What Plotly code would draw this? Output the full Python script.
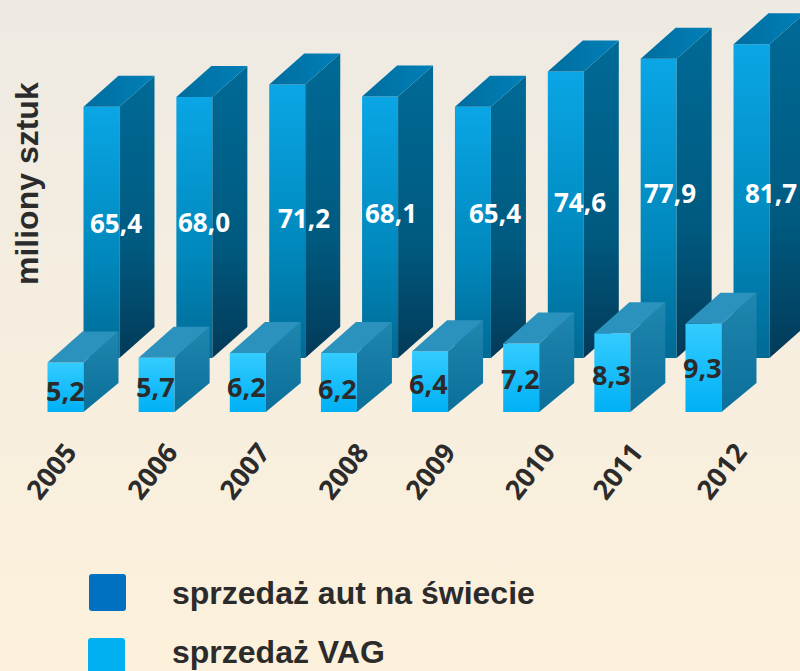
import plotly.graph_objects as go

years = ["2005", "2006", "2007", "2008", "2009", "2010", "2011", "2012"]
world_sales = [65.4, 68.0, 71.2, 68.1, 65.4, 74.6, 77.9, 81.7]
vag_sales = [5.2, 5.7, 6.2, 6.2, 6.4, 7.2, 8.3, 9.3]
legend_names = ["sprzedaż aut na świecie", "sprzedaż VAG"]
axis_title = "miliony sztuk"

W, H = 800, 671
DARK = "#2b2b2b"
NUM_FONT = "Open Sans"
TXT_FONT = "Liberation Sans"

# axis calibration (pixels)
W_STEP, W_X0, W_BASE, W_SCALE = 92.86, 101.5, 358, 3.84
V_STEP, V_X0, V_BASE, V_SCALE = 91.14, 65.5, 412, 9.5
BAR_W = 36
DEPTH_X, DEPTH_Y = 35, 31

x_range_w = [-W_X0 / W_STEP, (W - W_X0) / W_STEP]
x_range_v = [-V_X0 / V_STEP, (W - V_X0) / V_STEP]
y_range_w = [(W_BASE - H) / W_SCALE, W_BASE / W_SCALE]
y_range_v = [0, V_BASE / V_SCALE]
y_domain_v = [(H - V_BASE) / H, 1]

fig = go.Figure()


def face(xs, ys, stops, xa, ya, typ="vertical"):
    fig.add_trace(go.Scatter(
        x=xs + xs[:1], y=ys + ys[:1], xaxis=xa, yaxis=ya, mode="lines",
        line=dict(width=0), fill="toself",
        fillgradient=dict(type=typ, colorscale=stops),
        hoverinfo="skip", showlegend=False))


# background
face([x_range_w[0], x_range_w[1], x_range_w[1], x_range_w[0]],
     [y_range_w[0], y_range_w[0], y_range_w[1], y_range_w[1]],
     [[0, "#fdf1db"], [1, "#eeeae3"]], "x", "y")


def bar3d(i, v, step, scale, xa, ya, front, side, top, lift):
    hw = BAR_W / 2 / step
    dx = DEPTH_X / step
    dy = DEPTH_Y / scale
    l, r = i - hw, i + hw
    face([l, r, r, l], [0, 0, v, v], front, xa, ya)
    face([r, r + dx, r + dx, r], [0, lift / scale, v + dy, v], side, xa, ya)
    face([l, r, r + dx, l + dx], [v, v, v + dy, v + dy], top, xa, ya, "horizontal")


for i, v in enumerate(world_sales):
    bar3d(i, v, W_STEP, W_SCALE, "x", "y",
          [[0, "#006a95"], [0.4, "#0088bc"], [1, "#0aa6e6"]],
          [[0, "#033a58"], [0.4, "#005a80"], [1, "#006a96"]],
          [[0, "#006d9e"], [1, "#0080b8"]], DEPTH_Y)
for i, v in enumerate(vag_sales):
    bar3d(i, v, V_STEP, V_SCALE, "x2", "y2",
          [[0, "#00b0f5"], [1, "#33ccff"]],
          [[0, "#0a6f9a"], [1, "#1f86ae"]],
          [[0, "#2a92bd"], [1, "#2a92bd"]], 29)

# value labels sit around each bar's middle with hand-read nudges
w_nudge_x = [14.5, 9.6, 16.8, 10.9, 22.1, 14.2, 11.3, 19.5]
w_nudge_y = [9.4, 5.4, 3.3, 14.2, 19.4, 12.8, 15.4, 8.1]
v_nudge_x = [0, -1, -1, -1, -2, -1, -1, -1]
v_nudge_y = [-3.4, -1.8, -4, -6, -2, -1, -2, 0]


def fmt(v):
    return f"{v:.1f}".replace(".", ",")


annotations = []
for i, v in enumerate(world_sales):
    annotations.append(dict(x=i, y=v / 2, xref="x", yref="y", text=f"<b>{fmt(v)}</b>", showarrow=False,
                            xshift=w_nudge_x[i], yshift=w_nudge_y[i],
                            font=dict(family=NUM_FONT, size=26, color="white")))
for i, v in enumerate(vag_sales):
    annotations.append(dict(x=i, y=v / 2, xref="x2", yref="y2", text=f"<b>{fmt(v)}</b>", showarrow=False,
                            xshift=v_nudge_x[i], yshift=v_nudge_y[i],
                            font=dict(family=NUM_FONT, size=27, color=DARK)))

annotations.append(dict(x=27 / W, y=1 - 184 / H, xref="paper", yref="paper", text=f"<b>{axis_title}</b>",
                        textangle=-90, showarrow=False, xanchor="center", yanchor="middle",
                        font=dict(family=TXT_FONT, size=32, color=DARK)))

shapes = []
legend_colors = ["#0070c0", "#00b0f0"]
legend_boxes = [(89, 574), (88, 638)]
legend_text_y = [593, 652]
for name, col, (bx, by), ty in zip(legend_names, legend_colors, legend_boxes, legend_text_y):
    r, s = 3, 37
    x0, x1, y0, y1 = bx / W, (bx + s) / W, 1 - by / H, 1 - (by + s) / H
    rx, ry = r / W, r / H
    path = (f"M {x0+rx} {y0} L {x1-rx} {y0} Q {x1} {y0} {x1} {y0-ry} L {x1} {y1+ry} Q {x1} {y1} {x1-rx} {y1} "
            f"L {x0+rx} {y1} Q {x0} {y1} {x0} {y1+ry} L {x0} {y0-ry} Q {x0} {y0} {x0+rx} {y0} Z")
    shapes.append(dict(type="path", xref="paper", yref="paper", path=path, fillcolor=col, line=dict(width=0)))
    annotations.append(dict(x=170 / W, y=1 - ty / H, xref="paper", yref="paper", xanchor="left",
                            yanchor="middle", text=f"<b>{name}</b>", showarrow=False,
                            font=dict(family=TXT_FONT, size=32, color=DARK)))

tick_nudge = [0.02, 0.13, 0.14, 0.225, 0.18, 0.27, 0.233, 0.374]
tick_vals = [i + tick_nudge[i] for i in range(len(years))]

fig.update_layout(
    width=W, height=H, autosize=False,
    margin=dict(l=0, r=0, t=0, b=0),
    paper_bgcolor="#fdf1db", plot_bgcolor="rgba(0,0,0,0)",
    showlegend=False, shapes=shapes, annotations=annotations,
    xaxis=dict(range=x_range_w, visible=False, fixedrange=True, automargin=False),
    yaxis=dict(range=y_range_w, visible=False, fixedrange=True, automargin=False),
    xaxis2=dict(range=x_range_v, anchor="y2", side="bottom", showgrid=False, zeroline=False,
                showline=False, ticks="", tickmode="array", tickvals=tick_vals, ticktext=[f"<b>{y}</b>" for y in years],
                tickangle=-52, ticklabelstandoff=18, automargin=False,
                tickfont=dict(family=NUM_FONT, size=27, color=DARK), fixedrange=True),
    yaxis2=dict(range=y_range_v, domain=y_domain_v, anchor="x2", visible=False, fixedrange=True, automargin=False),
)
fig.write_html("out.html", config=dict(displayModeBar=False),
               post_script="document.body.style.margin='0';document.body.style.overflow='hidden';")
